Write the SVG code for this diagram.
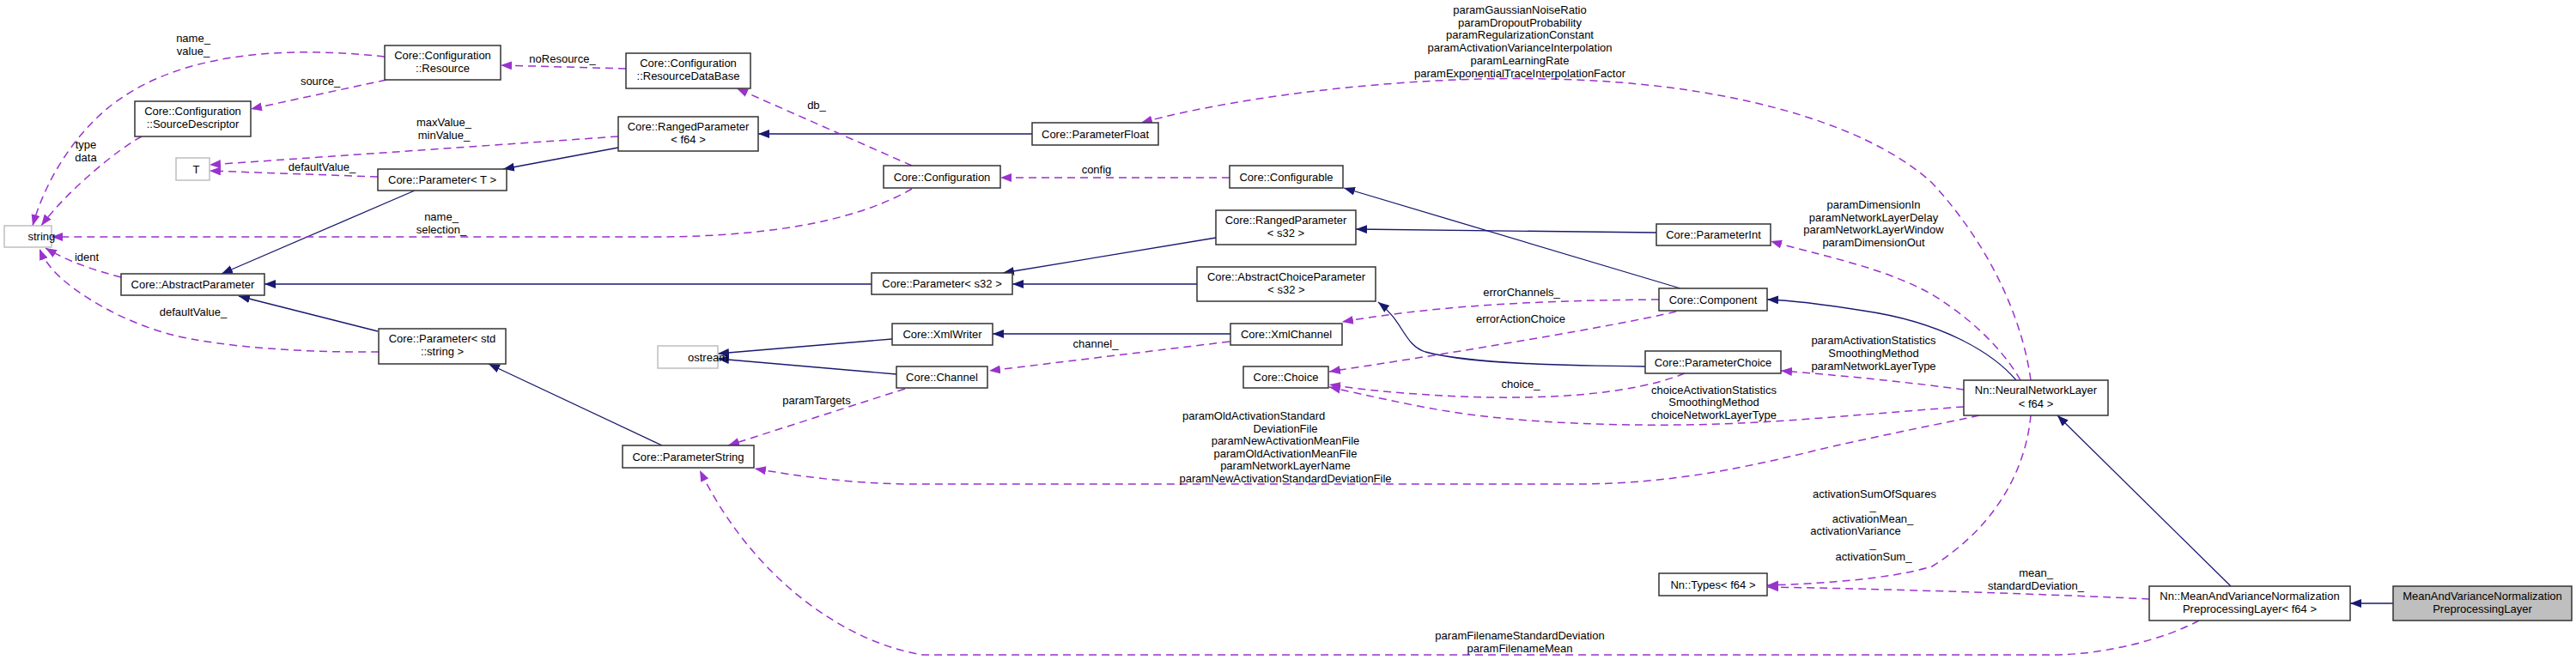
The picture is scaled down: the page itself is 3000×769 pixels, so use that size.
<svg xmlns="http://www.w3.org/2000/svg" width="3000" height="769" viewBox="0 0 3000 769">
<style>
text{font-family:"Liberation Sans",Arial,sans-serif;font-size:13px;fill:#000}
.n text,.l{text-anchor:middle}
.n rect{fill:#fff;stroke:#333;stroke-width:1.5}
.g rect{fill:#fff;stroke:#bfbfbf;stroke-width:1.5}
.t rect{fill:#bfbfbf;stroke:#333;stroke-width:1.5}
.inh{fill:none;stroke:#191970;stroke-width:1.3;marker-end:url(#an)}
.use{fill:none;stroke:#9a32cd;stroke-width:1.5;stroke-dasharray:9,6;marker-end:url(#ap)}
</style>
<defs>
<marker id="an" markerUnits="userSpaceOnUse" markerWidth="14" markerHeight="11" refX="13" refY="5" orient="auto"><path d="M0,0 L13,5 L0,10 z" fill="#191970"/></marker>
<marker id="ap" markerUnits="userSpaceOnUse" markerWidth="14" markerHeight="11" refX="13" refY="5" orient="auto"><path d="M0,0 L13,5 L0,10 z" fill="#9a32cd"/></marker>
</defs>
<rect width="3000" height="769" fill="#fff"/>
<g id="edges">
<path class="inh" d="M720,172 L586,197"/>
<path class="inh" d="M483,222 L258,319"/>
<path class="inh" d="M440,386 L278,345"/>
<path class="inh" d="M1015,331 L308,331"/>
<path class="inh" d="M1202,156 L883,156"/>
<path class="inh" d="M1957,336 L1565,219"/>
<path class="inh" d="M1929,271 L1579,267"/>
<path class="inh" d="M1416,277 L1168,318"/>
<path class="inh" d="M1394,331 L1179,331"/>
<path class="inh" d="M1916,427 C1780,426 1700,421 1660,410 C1635,402 1635,375 1605,352"/>
<path class="inh" d="M1039,395 L836,412"/>
<path class="inh" d="M1044,436 L836,418"/>
<path class="inh" d="M1433,389 L1156,389"/>
<path class="inh" d="M2348,443 C2320,410 2260,375 2170,362 C2120,354 2090,350 2058,349"/>
<path class="inh" d="M2598,683 L2396,484"/>
<path class="inh" d="M2787,703 L2737,703"/>
<path class="inh" d="M771,519 L569,424"/>

<path class="use" d="M448,66 C300,50 180,70 110,140 C75,175 50,220 38,263"/>
<text class="l" x="225" y="49">name_</text><text class="l" x="225" y="64">value_</text>
<path class="use" d="M165,159 C140,172 80,220 48,263"/>
<text class="l" x="100" y="173">type</text><text class="l" x="100" y="188">data</text>
<path class="use" d="M450,93 L292,127"/>
<text class="l" x="373" y="99">source_</text>
<path class="use" d="M729,80 L583,76"/>
<text class="l" x="655" y="73">noResource_</text>
<path class="use" d="M1062,193 L858,103"/>
<text class="l" x="951" y="127">db_</text>
<path class="use" d="M1432,207 L1165,207"/>
<text class="l" x="1277" y="202">config</text>
<path class="use" d="M1062,220 C1010,250 920,276 760,276 L60,276"/>
<text class="l" x="514" y="257">name_</text><text class="l" x="514" y="272">selection_</text>
<path class="use" d="M720,159 L244,192"/>
<text class="l" x="517" y="147">maxValue_</text><text class="l" x="517" y="162">minValue_</text>
<path class="use" d="M440,206 L244,199"/>
<text class="l" x="375" y="199">defaultValue_</text>
<path class="use" d="M141,323 C110,315 80,305 53,289"/>
<text class="l" x="101" y="304">ident</text>
<path class="use" d="M441,410 C360,411 260,405 200,390 C150,377 100,350 70,323 C58,312 50,300 46,290"/>
<text class="l" x="225" y="368">defaultValue_</text>
<path class="use" d="M2365,443 C2358,390 2330,300 2250,213 C2170,140 2000,95 1800,92 C1650,88 1450,110 1329,143"/>
<text class="l" x="1770" y="16">paramGaussianNoiseRatio</text>
<text class="l" x="1770" y="30.7">paramDropoutProbability</text>
<text class="l" x="1770" y="45.4">paramRegularizationConstant</text>
<text class="l" x="1770" y="60.1">paramActivationVarianceInterpolation</text>
<text class="l" x="1770" y="74.8">paramLearningRate</text>
<text class="l" x="1770" y="89.5">paramExponentialTraceInterpolationFactor</text>
<path class="use" d="M2353,443 C2340,420 2310,380 2250,343 C2190,310 2120,298 2062,281"/>
<text class="l" x="2182" y="243">paramDimensionIn</text>
<text class="l" x="2182" y="257.5">paramNetworkLayerDelay</text>
<text class="l" x="2182" y="272">paramNetworkLayerWindow</text>
<text class="l" x="2182" y="286.5">paramDimensionOut</text>
<path class="use" d="M1932,349 C1800,350 1680,355 1563,375"/>
<text class="l" x="1772" y="345">errorChannels_</text>
<path class="use" d="M1952,363 C1880,380 1700,410 1548,433"/>
<text class="l" x="1771" y="375.5">errorActionChoice</text>
<path class="use" d="M1962,435 C1900,460 1800,466 1700,462 C1640,459 1590,455 1548,448"/>
<text class="l" x="1771" y="452">choice_</text>
<path class="use" d="M2287,454 C2220,445 2140,437 2074,432"/>
<text class="l" x="2182" y="400.5">paramActivationStatistics</text>
<text class="l" x="2182" y="416">SmoothingMethod</text>
<text class="l" x="2182" y="431">paramNetworkLayerType</text>
<path class="use" d="M2287,474 C2200,480 2100,490 2026,493 C1950,497 1800,497 1691,480 C1640,472 1590,460 1548,451"/>
<text class="l" x="1996" y="458.5">choiceActivationStatistics</text>
<text class="l" x="1996" y="473">SmoothingMethod</text>
<text class="l" x="1996" y="488">choiceNetworkLayerType</text>
<path class="use" d="M2305,484 C2270,492 2200,505 2122,523 C2040,543 1950,564 1835,564 L1056,564 C990,563 930,555 879,546"/>
<text x="1377" y="489">paramOldActivationStandard</text>
<text class="l" x="1497" y="503.5">DeviationFile</text>
<text class="l" x="1497" y="518">paramNewActivationMeanFile</text>
<text class="l" x="1497" y="532.5">paramOldActivationMeanFile</text>
<text class="l" x="1497" y="547">paramNetworkLayerName</text>
<text class="l" x="1497" y="561.5">paramNewActivationStandardDeviationFile</text>
<path class="use" d="M1054,453 L848,519"/>
<text class="l" x="951" y="471">paramTargets</text>
<path class="use" d="M1432,398 L1152,432"/>
<text class="l" x="1276" y="405">channel_</text>
<path class="use" d="M2365,484 C2360,540 2330,610 2250,660 C2200,675 2120,680 2058,682"/>
<text class="l" x="2183" y="579.5">activationSumOfSquares</text>
<text class="l" x="2181" y="594">_</text>
<text class="l" x="2181" y="608.5">activationMean_</text>
<text class="l" x="2161" y="623">activationVariance</text>
<text class="l" x="2181" y="638">_</text>
<text class="l" x="2182" y="652.5">activationSum_</text>
<path class="use" d="M2503,698 C2400,693 2200,686 2058,684"/>
<text class="l" x="2371" y="672">mean_</text>
<text class="l" x="2371" y="687">standardDeviation_</text>
<path class="use" d="M2561,723 C2520,745 2450,763 2390,763 L1075,763 C990,750 880,680 815,548"/>
<text class="l" x="1770" y="745">paramFilenameStandardDeviation</text>
<text class="l" x="1770" y="760">paramFilenameMean</text>
</g>

<g id="n_string" class="g"><rect x="5" y="263" width="55" height="25"/><text x="32.5" y="280">string</text></g>
<g id="n_resource" class="n"><rect x="448" y="53" width="135" height="40"/><text x="515.5" y="69">Core::Configuration</text><text x="515.5" y="84">::Resource</text></g>
<g id="n_sourcedesc" class="n"><rect x="157" y="118" width="135" height="41"/><text x="224.5" y="134">Core::Configuration</text><text x="224.5" y="149">::SourceDescriptor</text></g>
<g id="n_T" class="g"><rect x="205" y="184" width="39" height="26"/><text x="224.5" y="201.5">T</text></g>
<g id="n_paramT" class="n"><rect x="440" y="197" width="150" height="25"/><text x="515" y="214">Core::Parameter&lt; T &gt;</text></g>
<g id="n_abstractparam" class="n"><rect x="141" y="319" width="167" height="25"/><text x="224.5" y="336">Core::AbstractParameter</text></g>
<g id="n_paramstdstring" class="n"><rect x="441" y="383" width="148" height="41"/><text x="515" y="399">Core::Parameter&lt; std</text><text x="515" y="414">::string &gt;</text></g>
<g id="n_resourcedb" class="n"><rect x="729" y="62" width="145" height="41"/><text x="801.5" y="78">Core::Configuration</text><text x="801.5" y="93">::ResourceDataBase</text></g>
<g id="n_rangedf64" class="n"><rect x="720" y="136" width="163" height="40"/><text x="801.5" y="152">Core::RangedParameter</text><text x="801.5" y="167">&lt; f64 &gt;</text></g>
<g id="n_paramfloat" class="n"><rect x="1202" y="143" width="147" height="26"/><text x="1275.5" y="160.5">Core::ParameterFloat</text></g>
<g id="n_configuration" class="n"><rect x="1029" y="193" width="136" height="26"/><text x="1097" y="210.5">Core::Configuration</text></g>
<g id="n_configurable" class="n"><rect x="1432" y="193" width="132" height="26"/><text x="1498" y="210.5">Core::Configurable</text></g>
<g id="n_rangeds32" class="n"><rect x="1416" y="245" width="163" height="40"/><text x="1497.5" y="261">Core::RangedParameter</text><text x="1497.5" y="276">&lt; s32 &gt;</text></g>
<g id="n_params32" class="n"><rect x="1015" y="318" width="164" height="25"/><text x="1097" y="335">Core::Parameter&lt; s32 &gt;</text></g>
<g id="n_abstractchoice" class="n"><rect x="1394" y="311" width="208" height="40"/><text x="1498" y="327">Core::AbstractChoiceParameter</text><text x="1498" y="342">&lt; s32 &gt;</text></g>
<g id="n_xmlwriter" class="n"><rect x="1039" y="377" width="117" height="25"/><text x="1097.5" y="394">Core::XmlWriter</text></g>
<g id="n_xmlchannel" class="n"><rect x="1433" y="377" width="130" height="25"/><text x="1498" y="394">Core::XmlChannel</text></g>
<g id="n_paramint" class="n"><rect x="1929" y="261" width="133" height="25"/><text x="1995.5" y="278">Core::ParameterInt</text></g>
<g id="n_component" class="n"><rect x="1932" y="336" width="126" height="26"/><text x="1995" y="353.5">Core::Component</text></g>
<g id="n_ostream" class="g"><rect x="766" y="403" width="70" height="26"/><text x="801" y="420.5">ostream</text></g>
<g id="n_channel" class="n"><rect x="1044" y="427" width="106" height="25"/><text x="1097" y="444">Core::Channel</text></g>
<g id="n_paramstring" class="n"><rect x="725" y="519" width="153" height="26"/><text x="801.5" y="536.5">Core::ParameterString</text></g>
<g id="n_choice" class="n"><rect x="1448" y="427" width="99" height="25"/><text x="1497.5" y="444">Core::Choice</text></g>
<g id="n_paramchoice" class="n"><rect x="1916" y="409" width="158" height="26"/><text x="1995" y="426.5">Core::ParameterChoice</text></g>
<g id="n_types" class="n"><rect x="1932" y="668" width="126" height="26"/><text x="1995" y="685.5">Nn::Types&lt; f64 &gt;</text></g>
<g id="n_nnl" class="n"><rect x="2287" y="443" width="168" height="41"/><text x="2371" y="459">Nn::NeuralNetworkLayer</text><text x="2371" y="474.5">&lt; f64 &gt;</text></g>
<g id="n_mvnf64" class="n"><rect x="2503" y="683" width="234" height="40"/><text x="2620" y="699">Nn::MeanAndVarianceNormalization</text><text x="2620" y="714">PreprocessingLayer&lt; f64 &gt;</text></g>
<g id="n_mvn" class="n t"><rect x="2787" y="683" width="208" height="40"/><text x="2891" y="699">MeanAndVarianceNormalization</text><text x="2891" y="714">PreprocessingLayer</text></g>
</svg>
